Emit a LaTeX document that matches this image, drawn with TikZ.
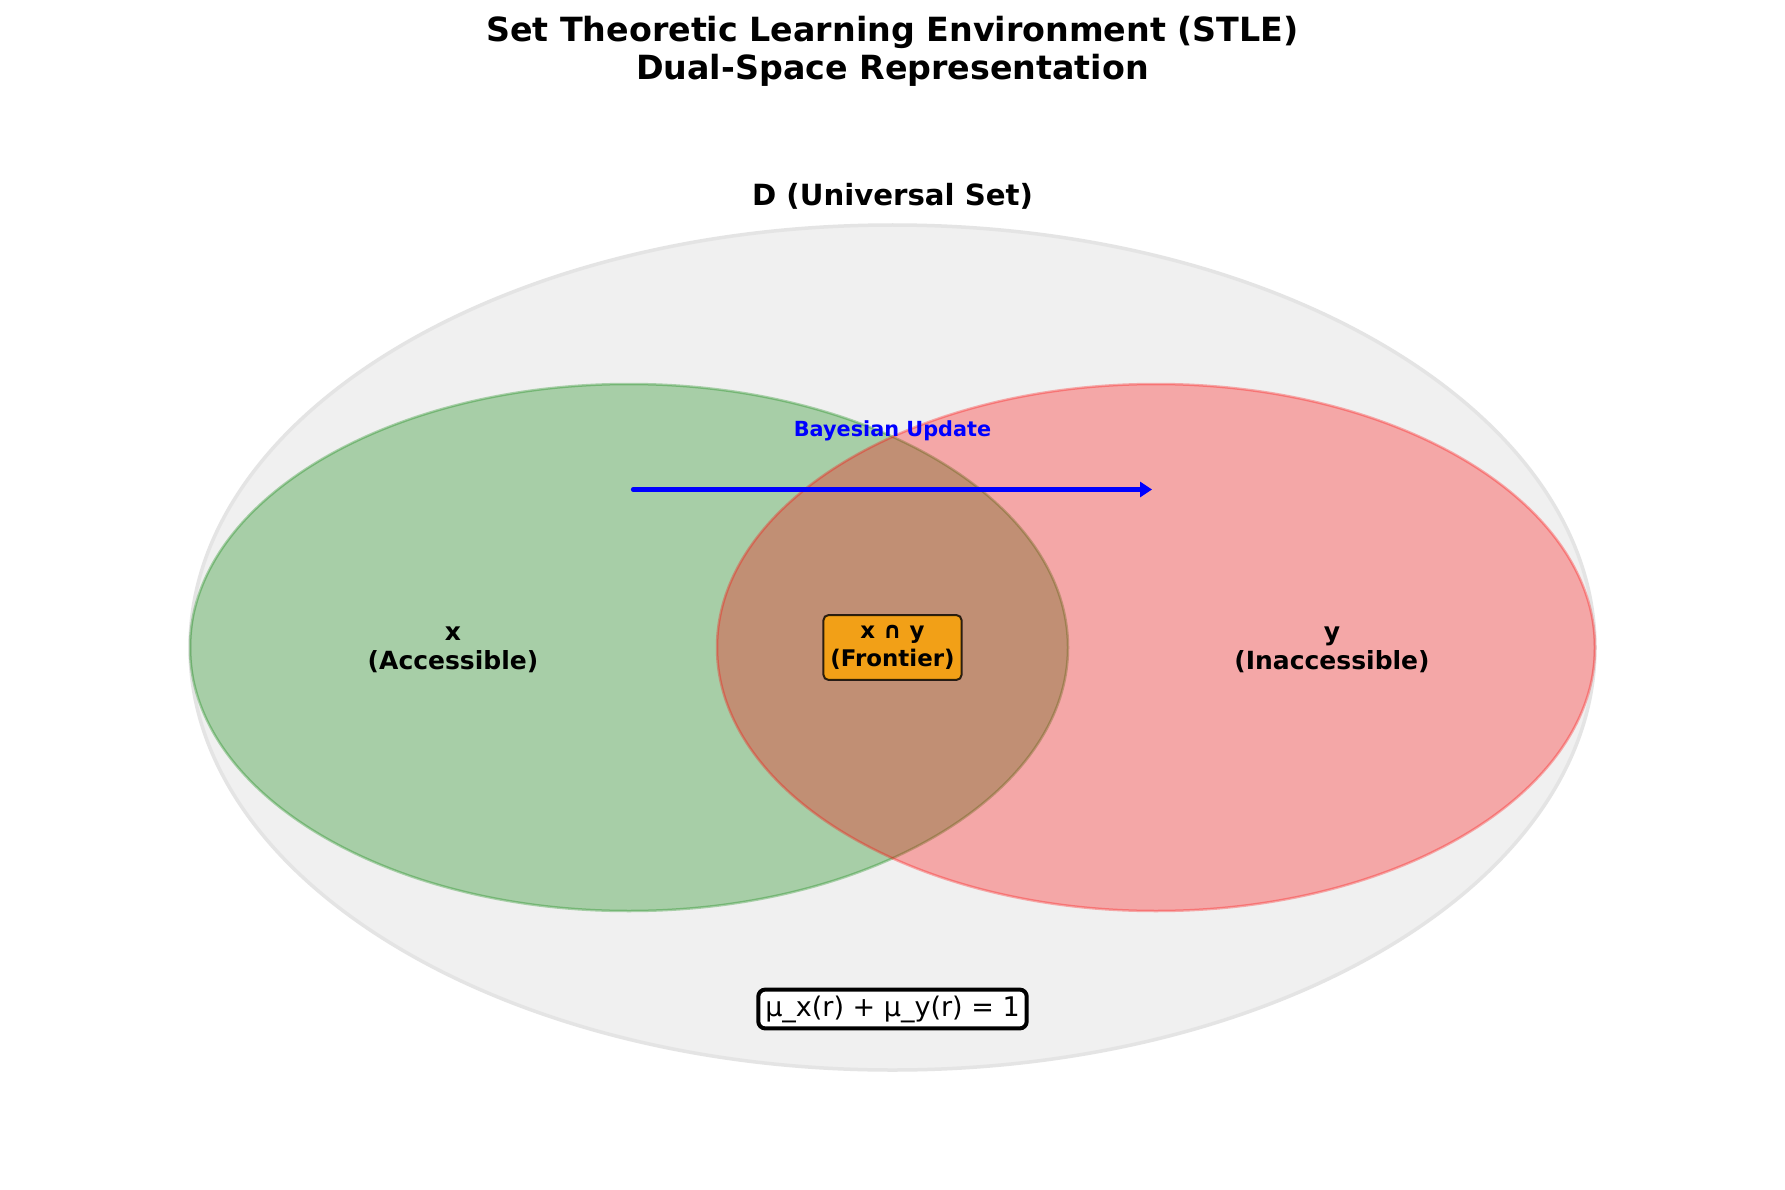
\documentclass[tikz,border=0pt]{standalone}
\usepackage{fontspec}
\setmainfont{DejaVu Sans}
\usetikzlibrary{shapes.geometric,arrows.meta}
\definecolor{mplgreen}{RGB}{0,128,0}
\definecolor{mplred}{RGB}{255,0,0}
\definecolor{mplorange}{RGB}{255,165,0}
\definecolor{mplblue}{RGB}{0,0,255}
\definecolor{univfill}{RGB}{240,240,240}
\definecolor{univedge}{RGB}{228,228,228}
\begin{document}
\begin{tikzpicture}[x=1pt,y=-1pt,
  universe/.style={ellipse,inner sep=0pt,minimum width=1405pt,minimum height=845pt,
     fill=univfill,draw=univedge,line width=3.5pt},
  setx/.style={ellipse,inner sep=0pt,minimum width=878pt,minimum height=527pt,
     fill=mplgreen,draw=mplgreen,fill opacity=0.3,draw opacity=0.3,line width=2.5pt},
  sety/.style={ellipse,inner sep=0pt,minimum width=878pt,minimum height=527pt,
     fill=mplred,draw=mplred,fill opacity=0.3,draw opacity=0.3,line width=2.5pt},
  titletext/.style={align=center,inner sep=0pt,font=\fontsize{33.3}{37.5}\selectfont\bfseries},
  headtext/.style={inner sep=0pt,font=\fontsize{29.2}{35}\selectfont\bfseries},
  labeltext/.style={align=center,inner sep=0pt,font=\fontsize{25}{29}\selectfont\bfseries},
  frontierbox/.style={align=center,rounded corners=5pt,fill=mplorange,draw=black,
     fill opacity=0.8,draw opacity=0.8,text opacity=1,line width=2pt,
     inner xsep=7pt,inner ysep=10.5pt,font=\fontsize{22.9}{27.5}\selectfont\bfseries},
  eqbox/.style={rounded corners=7pt,fill=white,draw=black,line width=4pt,
     inner xsep=7pt,inner ysep=6pt,font=\fontsize{27}{32}\selectfont},
  updatetext/.style={inner sep=0pt,text=mplblue,font=\fontsize{20.8}{25}\selectfont\bfseries},
  updatearrow/.style={draw=mplblue,line width=4.2pt,line cap=round,
     -{Triangle[length=12pt,width=15pt]}}
]
\useasboundingbox[fill=white] (0,0) rectangle (1785,1190);

\node[titletext] (title) at (892.5,51.5) {Set Theoretic Learning Environment (STLE)\\Dual-Space Representation};

\node[universe] (D) at (892.5,647.5) {};
\node[setx] (X) at (629,647.5) {};
\node[sety] (Y) at (1156,647.5) {};

\node[headtext] (Dlabel) at (892.5,196) {D (Universal Set)};

\node[labeltext] (xlabel) at (453,649.5) {x\\(Accessible)};
\node[labeltext] (ylabel) at (1332,649.5) {y\\(Inaccessible)};

\node[frontierbox] (front) at (892.5,647.5) {x ∩ y\\(Frontier)};

\coordinate (ustart) at (633,489.5);
\coordinate (uend) at (1152,489.5);
\draw[updatearrow] (ustart) -- (uend);
\node[updatetext] (update) at (892.5,430.5) {Bayesian Update};

\node[eqbox] (eq) at (892.5,1009) {μ\_x(r) + μ\_y(r) = 1};
\end{tikzpicture}
\end{document}
